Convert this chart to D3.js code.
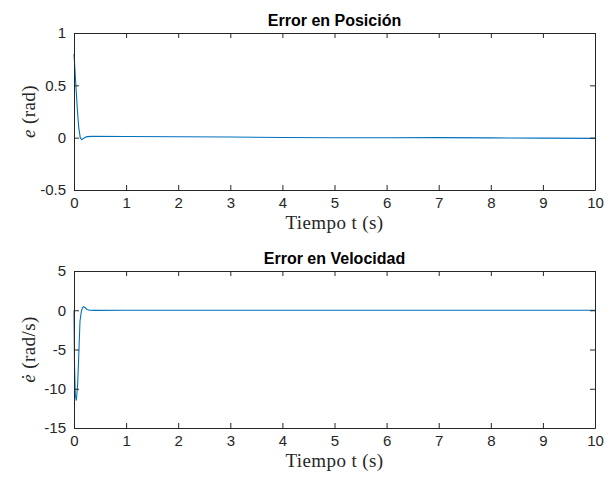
<!DOCTYPE html>
<html>
<head>
<meta charset="utf-8"/>
<title>Error en Posición / Velocidad</title>
<script src="https://d3js.org/d3.v7.min.js"></script>
<style>
	body { margin: 0; background: #fff; }
	.tick text { font-family: "Liberation Sans", Arial, sans-serif; font-size: 15px; fill: #262626; }
	.title { font-family: "Liberation Sans", Arial, sans-serif; font-size: 16px; font-weight: bold; fill: #000; }
	.lbl { font-family: "Liberation Serif", "DejaVu Serif", serif; font-size: 19px; letter-spacing: 0.4px; fill: #262626; }
</style>
</head>
<body>
<svg width="612" height="478"></svg>
<script>
// position error e(t)
const tPos = [0, 0.03, 0.06, 0.09, 0.12, 0.15, 0.2, 0.25, 0.35, 1, 2, 3, 4, 5, 6, 7, 8, 9, 10];
const ePos = [0.8, 0.55, 0.3, 0.1, 0.0, -0.02, 0.0, 0.01, 0.012, 0.011, 0.009, 0.006, 0.002, -0.001, -0.001, 0.0, -0.002, -0.004, -0.007];

// velocity error de/dt
const tVel = [0, 0.01, 0.025, 0.045, 0.07, 0.09, 0.115, 0.14, 0.16, 0.18, 0.21, 0.25, 0.3, 0.4, 1, 10];
const eVel = [0, -7, -10.8, -11.5, -9.5, -6, -1.4, -0.2, 0.3, 0.45, 0.35, 0.1, 0.0, -0.02, 0, 0];

const xTicks = d3.range(0, 11, 1);
const posTicks = [-0.5, 0, 0.5, 1];
const velTicks = [-15, -10, -5, 0, 5];

const svg = d3.select("svg");
const left = 74, right = 595;
const axisColor = "#262626";
const lineColor = "#0072BD";

function panel(top, bottom, yDomain, yTicks, tArr, vArr, title, yLabelParts) {
	const x = d3.scaleLinear().domain([0, 10]).range([left, right]);
	const y = d3.scaleLinear().domain(yDomain).range([bottom, top]);
	const g = svg.append("g");

	// data line
	g.append("path")
		.datum(tArr.map((t, i) => [t, vArr[i]]))
		.attr("fill", "none")
		.attr("stroke", lineColor)
		.attr("stroke-width", 1.1)
		.attr("d", d3.line().x(d => x(d[0])).y(d => y(d[1])));

	// axes with inward ticks, closed box
	const tk = 5;
	g.append("g").attr("transform", `translate(0,${bottom})`)
		.call(d3.axisBottom(x).tickValues(xTicks).tickFormat(d3.format("d")).tickSizeInner(-tk).tickSizeOuter(0).tickPadding(7));
	g.append("g").attr("transform", `translate(0,${top})`)
		.call(d3.axisTop(x).tickValues(xTicks).tickFormat("").tickSizeInner(-tk).tickSizeOuter(0));
	g.append("g").attr("transform", `translate(${left},0)`)
		.call(d3.axisLeft(y).tickValues(yTicks).tickFormat(d => String(d)).tickSizeInner(-tk).tickSizeOuter(0).tickPadding(8));
	g.append("g").attr("transform", `translate(${right},0)`)
		.call(d3.axisRight(y).tickValues(yTicks).tickFormat("").tickSizeInner(-tk).tickSizeOuter(0));
	g.selectAll(".domain, .tick line").attr("stroke", axisColor).attr("stroke-width", 1);

	g.append("text").attr("class", "title")
		.attr("x", (left + right) / 2).attr("y", top - 7)
		.attr("text-anchor", "middle").text(title);

	g.append("text").attr("class", "lbl")
		.attr("x", (left + right) / 2).attr("y", bottom + 39)
		.attr("text-anchor", "middle").text("Tiempo t (s)");

	const yl = g.append("text").attr("class", "lbl")
		.attr("transform", `translate(35,${(top + bottom) / 2}) rotate(-90)`)
		.attr("text-anchor", "middle");
	yl.append("tspan").attr("font-style", "italic").text(yLabelParts[0]);
	yl.append("tspan").text(yLabelParts[1]);
}

panel(33, 190, [-0.5, 1], posTicks, tPos, ePos, "Error en Posición", ["e", " (rad)"]);
panel(271, 428, [-15, 5], velTicks, tVel, eVel, "Error en Velocidad", ["\u0117", " (rad/s)"]);
</script>
</body>
</html>
